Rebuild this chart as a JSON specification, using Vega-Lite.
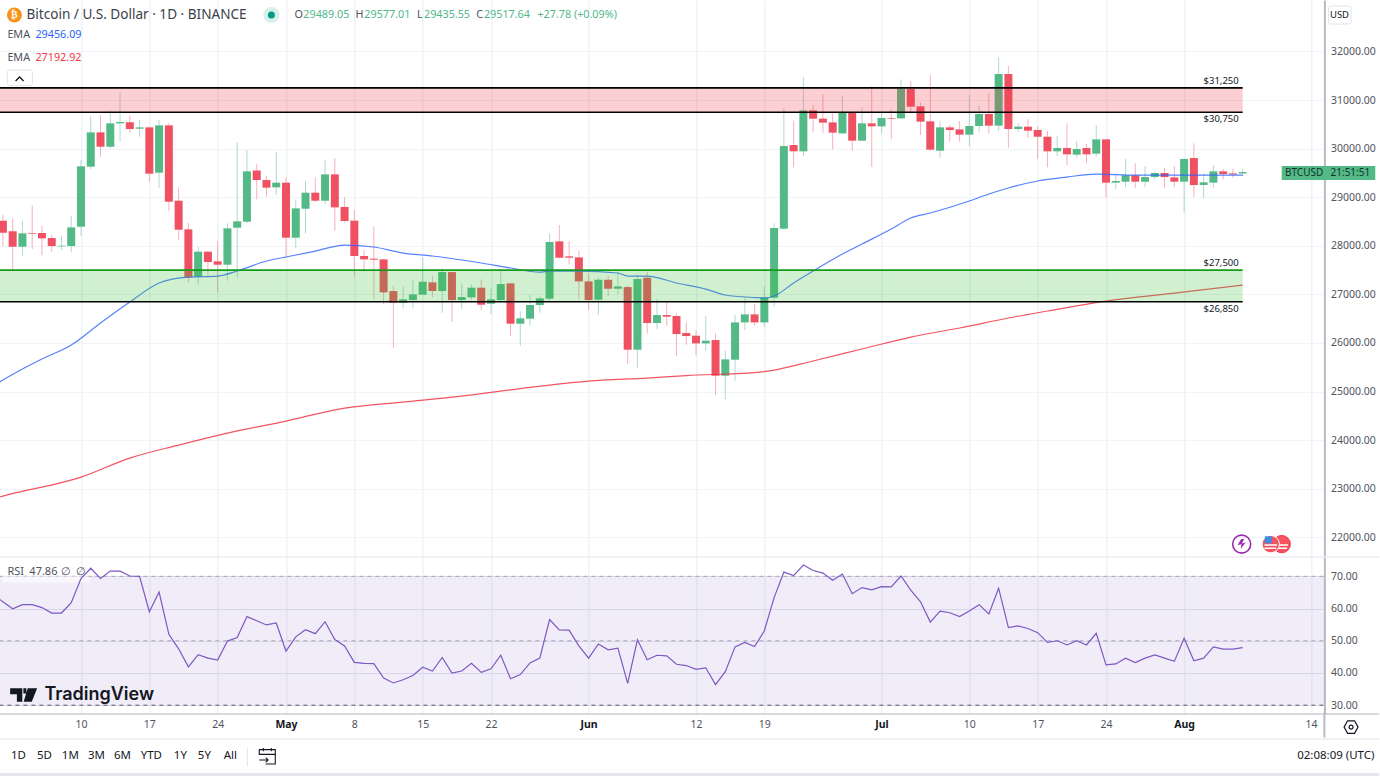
{
"$schema":"https://vega.github.io/schema/vega-lite/v6.json",
"padding":{"left":-3.6,"top":0,"right":0,"bottom":0},"background":"#ffffff","spacing":-2,
"config":{"view":{"stroke":null},"axis":{"title":null},"text":{"font":"Noto Sans"}},
"datasets":{
"candles":[
{"date":"2023-04-02","open":28516,"high":28633,"low":27995,"close":28269},
{"date":"2023-04-03","open":28297,"high":28565,"low":27501,"close":27981},
{"date":"2023-04-04","open":27981,"high":28516,"low":27796,"close":28256},
{"date":"2023-04-05","open":28263,"high":28825,"low":27933,"close":28249},
{"date":"2023-04-06","open":28263,"high":28414,"low":27810,"close":28153},
{"date":"2023-04-07","open":28160,"high":28222,"low":27878,"close":27995},
{"date":"2023-04-08","open":27988,"high":28208,"low":27913,"close":28002},
{"date":"2023-04-09","open":27995,"high":28619,"low":27872,"close":28379},
{"date":"2023-04-10","open":28393,"high":29765,"low":28208,"close":29635},
{"date":"2023-04-11","open":29628,"high":30671,"low":29580,"close":30334},
{"date":"2023-04-12","open":30334,"high":30691,"low":29834,"close":30039},
{"date":"2023-04-13","open":30039,"high":30780,"low":30005,"close":30520},
{"date":"2023-04-14","open":30520,"high":31158,"low":30142,"close":30547},
{"date":"2023-04-15","open":30540,"high":30677,"low":30328,"close":30403},
{"date":"2023-04-16","open":30410,"high":30588,"low":30245,"close":30437},
{"date":"2023-04-17","open":30437,"high":30451,"low":29319,"close":29484},
{"date":"2023-04-18","open":29504,"high":30588,"low":29196,"close":30478},
{"date":"2023-04-19","open":30478,"high":30520,"low":28715,"close":28907},
{"date":"2023-04-20","open":28928,"high":29202,"low":28119,"close":28331},
{"date":"2023-04-21","open":28338,"high":28475,"low":27247,"close":27350},
{"date":"2023-04-22","open":27364,"high":27981,"low":27199,"close":27879},
{"date":"2023-04-23","open":27879,"high":27892,"low":27364,"close":27666},
{"date":"2023-04-24","open":27680,"high":28098,"low":27042,"close":27611},
{"date":"2023-04-25","open":27611,"high":28462,"low":27282,"close":28359},
{"date":"2023-04-26","open":28372,"high":30129,"low":27343,"close":28503},
{"date":"2023-04-27","open":28496,"high":29971,"low":28462,"close":29532},
{"date":"2023-04-28","open":29552,"high":29676,"low":28955,"close":29353},
{"date":"2023-04-29","open":29353,"high":29436,"low":29010,"close":29196},
{"date":"2023-04-30","open":29203,"high":29937,"low":29045,"close":29299},
{"date":"2023-05-01","open":29299,"high":29408,"low":27762,"close":28167},
{"date":"2023-05-02","open":28167,"high":28955,"low":27961,"close":28770},
{"date":"2023-05-03","open":28763,"high":29340,"low":28256,"close":29093},
{"date":"2023-05-04","open":29093,"high":29408,"low":28907,"close":28928},
{"date":"2023-05-05","open":28928,"high":29765,"low":28859,"close":29470},
{"date":"2023-05-06","open":29470,"high":29799,"low":28311,"close":28791},
{"date":"2023-05-07","open":28798,"high":29000,"low":28480,"close":28510},
{"date":"2023-05-08","open":28517,"high":28736,"low":27364,"close":27790},
{"date":"2023-05-09","open":27790,"high":27913,"low":27467,"close":27721},
{"date":"2023-05-10","open":27735,"high":28393,"low":26898,"close":27714},
{"date":"2023-05-11","open":27721,"high":27721,"low":26802,"close":27042},
{"date":"2023-05-12","open":27069,"high":27172,"low":25903,"close":26829},
{"date":"2023-05-13","open":26829,"high":27158,"low":26712,"close":26898},
{"date":"2023-05-14","open":26884,"high":27309,"low":26726,"close":27001},
{"date":"2023-05-15","open":26994,"high":27762,"low":26987,"close":27261},
{"date":"2023-05-16","open":27248,"high":27378,"low":26939,"close":27069},
{"date":"2023-05-17","open":27069,"high":27536,"low":26623,"close":27460},
{"date":"2023-05-18","open":27460,"high":27460,"low":26438,"close":26884},
{"date":"2023-05-19","open":26884,"high":27227,"low":26699,"close":26946},
{"date":"2023-05-20","open":26939,"high":27206,"low":26884,"close":27138},
{"date":"2023-05-21","open":27138,"high":27309,"low":26678,"close":26788},
{"date":"2023-05-22","open":26809,"high":27145,"low":26596,"close":26898},
{"date":"2023-05-23","open":26884,"high":27488,"low":26850,"close":27213},
{"date":"2023-05-24","open":27227,"high":27241,"low":26143,"close":26397},
{"date":"2023-05-25","open":26397,"high":26658,"low":25944,"close":26507},
{"date":"2023-05-26","open":26500,"high":26987,"low":26356,"close":26781},
{"date":"2023-05-27","open":26781,"high":26953,"low":26623,"close":26918},
{"date":"2023-05-28","open":26911,"high":28256,"low":26870,"close":28078},
{"date":"2023-05-29","open":28091,"high":28428,"low":27742,"close":27755},
{"date":"2023-05-30","open":27783,"high":28098,"low":27618,"close":27755},
{"date":"2023-05-31","open":27762,"high":27892,"low":26898,"close":27268},
{"date":"2023-06-01","open":27268,"high":27433,"low":26678,"close":26884},
{"date":"2023-06-02","open":26891,"high":27350,"low":26575,"close":27302},
{"date":"2023-06-03","open":27302,"high":27378,"low":26966,"close":27117},
{"date":"2023-06-04","open":27117,"high":27467,"low":27007,"close":27165},
{"date":"2023-06-05","open":27151,"high":27186,"low":25567,"close":25862},
{"date":"2023-06-06","open":25862,"high":27412,"low":25478,"close":27316},
{"date":"2023-06-07","open":27344,"high":27467,"low":26198,"close":26411},
{"date":"2023-06-08","open":26411,"high":26905,"low":26287,"close":26575},
{"date":"2023-06-09","open":26575,"high":26850,"low":26356,"close":26541},
{"date":"2023-06-10","open":26555,"high":26610,"low":25732,"close":26184},
{"date":"2023-06-11","open":26205,"high":26424,"low":25965,"close":26143},
{"date":"2023-06-12","open":26150,"high":26267,"low":25752,"close":25992},
{"date":"2023-06-13","open":25992,"high":26555,"low":25841,"close":26047},
{"date":"2023-06-14","open":26061,"high":26198,"low":24929,"close":25327},
{"date":"2023-06-15","open":25327,"high":25841,"low":24840,"close":25663},
{"date":"2023-06-16","open":25656,"high":26575,"low":25224,"close":26424},
{"date":"2023-06-17","open":26424,"high":26939,"low":26267,"close":26589},
{"date":"2023-06-18","open":26589,"high":26802,"low":26356,"close":26424},
{"date":"2023-06-19","open":26424,"high":27158,"low":26335,"close":26939},
{"date":"2023-06-20","open":26932,"high":28462,"low":26747,"close":28366},
{"date":"2023-06-21","open":28352,"high":30828,"low":28325,"close":30053},
{"date":"2023-06-22","open":30074,"high":30575,"low":29614,"close":29944},
{"date":"2023-06-23","open":29944,"high":31466,"low":29847,"close":30787},
{"date":"2023-06-24","open":30787,"high":30897,"low":30341,"close":30616},
{"date":"2023-06-25","open":30616,"high":31123,"low":30328,"close":30534},
{"date":"2023-06-26","open":30540,"high":30726,"low":29985,"close":30328},
{"date":"2023-06-27","open":30314,"high":31089,"low":30300,"close":30739},
{"date":"2023-06-28","open":30739,"high":30760,"low":29957,"close":30163},
{"date":"2023-06-29","open":30163,"high":30849,"low":30156,"close":30520},
{"date":"2023-06-30","open":30520,"high":31288,"low":29628,"close":30458},
{"date":"2023-07-01","open":30458,"high":30726,"low":30314,"close":30630},
{"date":"2023-07-02","open":30630,"high":30808,"low":30197,"close":30616},
{"date":"2023-07-03","open":30623,"high":31425,"low":30609,"close":31233},
{"date":"2023-07-04","open":31226,"high":31384,"low":30726,"close":30863},
{"date":"2023-07-05","open":30870,"high":30952,"low":30280,"close":30554},
{"date":"2023-07-06","open":30561,"high":31508,"low":29957,"close":29978},
{"date":"2023-07-07","open":29957,"high":30561,"low":29813,"close":30437},
{"date":"2023-07-08","open":30437,"high":30485,"low":30142,"close":30383},
{"date":"2023-07-09","open":30396,"high":30568,"low":30142,"close":30287},
{"date":"2023-07-10","open":30287,"high":31103,"low":30053,"close":30465},
{"date":"2023-07-11","open":30465,"high":30883,"low":30348,"close":30712},
{"date":"2023-07-12","open":30712,"high":31137,"low":30314,"close":30472},
{"date":"2023-07-13","open":30472,"high":31878,"low":30362,"close":31535},
{"date":"2023-07-14","open":31535,"high":31700,"low":30019,"close":30403},
{"date":"2023-07-15","open":30403,"high":30520,"low":30348,"close":30451},
{"date":"2023-07-16","open":30451,"high":30609,"low":30225,"close":30369},
{"date":"2023-07-17","open":30383,"high":30451,"low":29786,"close":30245},
{"date":"2023-07-18","open":30245,"high":30362,"low":29614,"close":29944},
{"date":"2023-07-19","open":29944,"high":30259,"low":29847,"close":30012},
{"date":"2023-07-20","open":30012,"high":30520,"low":29662,"close":29882},
{"date":"2023-07-21","open":29875,"high":30156,"low":29813,"close":29992},
{"date":"2023-07-22","open":30012,"high":30094,"low":29697,"close":29882},
{"date":"2023-07-23","open":29896,"high":30485,"low":29834,"close":30190},
{"date":"2023-07-24","open":30190,"high":30190,"low":28990,"close":29299},
{"date":"2023-07-25","open":29299,"high":29456,"low":29168,"close":29333},
{"date":"2023-07-26","open":29319,"high":29786,"low":29203,"close":29450},
{"date":"2023-07-27","open":29450,"high":29697,"low":29196,"close":29319},
{"date":"2023-07-28","open":29319,"high":29642,"low":29203,"close":29415},
{"date":"2023-07-29","open":29415,"high":29525,"low":29367,"close":29498},
{"date":"2023-07-30","open":29498,"high":29607,"low":29196,"close":29415},
{"date":"2023-07-31","open":29408,"high":29642,"low":29203,"close":29319},
{"date":"2023-08-01","open":29319,"high":29799,"low":28681,"close":29786},
{"date":"2023-08-02","open":29806,"high":30108,"low":29011,"close":29251},
{"date":"2023-08-03","open":29251,"high":29491,"low":28990,"close":29306},
{"date":"2023-08-04","open":29299,"high":29662,"low":29196,"close":29532},
{"date":"2023-08-05","open":29532,"high":29580,"low":29367,"close":29477},
{"date":"2023-08-06","open":29491,"high":29580,"low":29402,"close":29470},
{"date":"2023-08-07","open":29489.05,"high":29577.01,"low":29435.55,"close":29517.64}
],
"ema50":[
{"date":"2023-04-01T15:23:00Z","price":25196},{"date":"2023-04-02","price":25238},{"date":"2023-04-04","price":25464},{"date":"2023-04-06","price":25670},{"date":"2023-04-09","price":25958},{"date":"2023-04-12","price":26411},{"date":"2023-04-15","price":26843},{"date":"2023-04-18","price":27234},{"date":"2023-04-21","price":27357},{"date":"2023-04-24","price":27378},{"date":"2023-04-26","price":27481},{"date":"2023-04-29","price":27687},{"date":"2023-05-01","price":27769},{"date":"2023-05-04","price":27892},{"date":"2023-05-07","price":28016},{"date":"2023-05-10","price":27975},{"date":"2023-05-13","price":27851},{"date":"2023-05-16","price":27790},{"date":"2023-05-21","price":27646},{"date":"2023-05-24","price":27543},{"date":"2023-05-27","price":27460},{"date":"2023-05-28","price":27481},{"date":"2023-05-31","price":27481},{"date":"2023-06-04","price":27440},{"date":"2023-06-05","price":27378},{"date":"2023-06-07","price":27378},{"date":"2023-06-10","price":27234},{"date":"2023-06-13","price":27110},{"date":"2023-06-15","price":26987},{"date":"2023-06-18","price":26935},{"date":"2023-06-19","price":26925},{"date":"2023-06-20","price":26966},{"date":"2023-06-22","price":27234},{"date":"2023-06-24","price":27481},{"date":"2023-06-27","price":27831},{"date":"2023-06-29","price":28036},{"date":"2023-07-02","price":28345},{"date":"2023-07-04","price":28572},{"date":"2023-07-06","price":28675},{"date":"2023-07-10","price":28921},{"date":"2023-07-12","price":29066},{"date":"2023-07-14","price":29189},{"date":"2023-07-17","price":29333},{"date":"2023-07-20","price":29415},{"date":"2023-07-23","price":29477},{"date":"2023-07-27","price":29456},{"date":"2023-08-01","price":29456},{"date":"2023-08-07","price":29456.09}
],
"ema200":[
{"date":"2023-04-01T15:23:00Z","price":22830},{"date":"2023-04-02","price":22850},{"date":"2023-04-10","price":23241},{"date":"2023-04-15","price":23632},{"date":"2023-04-20","price":23900},{"date":"2023-04-25","price":24147},{"date":"2023-05-01","price":24394},{"date":"2023-05-07","price":24661},{"date":"2023-05-13","price":24785},{"date":"2023-05-19","price":24908},{"date":"2023-05-25","price":25063},{"date":"2023-06-01","price":25217},{"date":"2023-06-07","price":25279},{"date":"2023-06-11","price":25330},{"date":"2023-06-18","price":25392},{"date":"2023-06-20","price":25443},{"date":"2023-06-24","price":25629},{"date":"2023-06-29","price":25876},{"date":"2023-07-04","price":26122},{"date":"2023-07-09","price":26308},{"date":"2023-07-14","price":26514},{"date":"2023-07-18","price":26658},{"date":"2023-07-24","price":26863},{"date":"2023-07-31","price":27028},{"date":"2023-08-07","price":27192.92}
],
"rsi":[
{"date":"2023-04-01T15:23:00Z","rsi":62.9},{"date":"2023-04-02","rsi":62.1},{"date":"2023-04-03","rsi":59.9},{"date":"2023-04-04","rsi":61.2},{"date":"2023-04-05","rsi":61.2},{"date":"2023-04-06","rsi":60.3},{"date":"2023-04-07","rsi":58.6},{"date":"2023-04-08","rsi":58.6},{"date":"2023-04-09","rsi":61.8},{"date":"2023-04-10","rsi":69.3},{"date":"2023-04-11","rsi":72.5},{"date":"2023-04-12","rsi":69.3},{"date":"2023-04-13","rsi":71.6},{"date":"2023-04-14","rsi":71.6},{"date":"2023-04-15","rsi":70.1},{"date":"2023-04-16","rsi":70},{"date":"2023-04-17","rsi":59},{"date":"2023-04-18","rsi":65.1},{"date":"2023-04-19","rsi":52},{"date":"2023-04-20","rsi":47.5},{"date":"2023-04-21","rsi":41.9},{"date":"2023-04-22","rsi":45.7},{"date":"2023-04-23","rsi":44.6},{"date":"2023-04-24","rsi":44},{"date":"2023-04-25","rsi":49.9},{"date":"2023-04-26","rsi":51},{"date":"2023-04-27","rsi":57.5},{"date":"2023-04-28","rsi":56.2},{"date":"2023-04-29","rsi":54.9},{"date":"2023-04-30","rsi":55.5},
{"date":"2023-05-01","rsi":46.8},{"date":"2023-05-02","rsi":51.2},{"date":"2023-05-03","rsi":53.4},{"date":"2023-05-04","rsi":52.2},{"date":"2023-05-05","rsi":55.9},{"date":"2023-05-06","rsi":50.4},{"date":"2023-05-07","rsi":48.4},{"date":"2023-05-08","rsi":43.3},{"date":"2023-05-09","rsi":43},{"date":"2023-05-10","rsi":42.9},{"date":"2023-05-11","rsi":38.4},{"date":"2023-05-12","rsi":36.9},{"date":"2023-05-13","rsi":37.9},{"date":"2023-05-14","rsi":39.2},{"date":"2023-05-15","rsi":41.8},{"date":"2023-05-16","rsi":40.6},{"date":"2023-05-17","rsi":44.8},{"date":"2023-05-18","rsi":40},{"date":"2023-05-19","rsi":40.6},{"date":"2023-05-20","rsi":43},{"date":"2023-05-21","rsi":40.2},{"date":"2023-05-22","rsi":41.3},{"date":"2023-05-23","rsi":45.5},{"date":"2023-05-24","rsi":38.2},{"date":"2023-05-25","rsi":39.5},{"date":"2023-05-26","rsi":43.1},{"date":"2023-05-27","rsi":44.6},{"date":"2023-05-28","rsi":56.6},{"date":"2023-05-29","rsi":53.4},{"date":"2023-05-30","rsi":53.3},{"date":"2023-05-31","rsi":48.4},
{"date":"2023-06-01","rsi":44.6},{"date":"2023-06-02","rsi":49},{"date":"2023-06-03","rsi":47.2},{"date":"2023-06-04","rsi":47.7},{"date":"2023-06-05","rsi":36.8},{"date":"2023-06-06","rsi":50.3},{"date":"2023-06-07","rsi":44.1},{"date":"2023-06-08","rsi":45.5},{"date":"2023-06-09","rsi":45.3},{"date":"2023-06-10","rsi":42.7},{"date":"2023-06-11","rsi":42.3},{"date":"2023-06-12","rsi":41.1},{"date":"2023-06-13","rsi":41.6},{"date":"2023-06-14","rsi":36.4},{"date":"2023-06-15","rsi":40.4},{"date":"2023-06-16","rsi":48.1},{"date":"2023-06-17","rsi":49.5},{"date":"2023-06-18","rsi":48.2},{"date":"2023-06-19","rsi":53.1},{"date":"2023-06-20","rsi":63.4},{"date":"2023-06-21","rsi":71.3},{"date":"2023-06-22","rsi":70.2},{"date":"2023-06-23","rsi":73.5},{"date":"2023-06-24","rsi":71.8},{"date":"2023-06-25","rsi":71},{"date":"2023-06-26","rsi":68.8},{"date":"2023-06-27","rsi":70.7},{"date":"2023-06-28","rsi":64.6},{"date":"2023-06-29","rsi":66.5},{"date":"2023-06-30","rsi":65.8},
{"date":"2023-07-01","rsi":66.8},{"date":"2023-07-02","rsi":66.7},{"date":"2023-07-03","rsi":70.1},{"date":"2023-07-04","rsi":65.7},{"date":"2023-07-05","rsi":62.1},{"date":"2023-07-06","rsi":55.8},{"date":"2023-07-07","rsi":59.2},{"date":"2023-07-08","rsi":58.7},{"date":"2023-07-09","rsi":57.5},{"date":"2023-07-10","rsi":59.2},{"date":"2023-07-11","rsi":61.2},{"date":"2023-07-12","rsi":58.3},{"date":"2023-07-13","rsi":66.3},{"date":"2023-07-14","rsi":54.1},{"date":"2023-07-15","rsi":54.6},{"date":"2023-07-16","rsi":53.8},{"date":"2023-07-17","rsi":52.5},{"date":"2023-07-18","rsi":49.5},{"date":"2023-07-19","rsi":50},{"date":"2023-07-20","rsi":48.7},{"date":"2023-07-21","rsi":50},{"date":"2023-07-22","rsi":48.7},{"date":"2023-07-23","rsi":52.3},{"date":"2023-07-24","rsi":42.5},{"date":"2023-07-25","rsi":42.8},{"date":"2023-07-26","rsi":44.6},{"date":"2023-07-27","rsi":43.2},{"date":"2023-07-28","rsi":44.6},{"date":"2023-07-29","rsi":45.6},{"date":"2023-07-30","rsi":44.6},{"date":"2023-07-31","rsi":43.6},
{"date":"2023-08-01","rsi":50.8},{"date":"2023-08-02","rsi":43.8},{"date":"2023-08-03","rsi":44.6},{"date":"2023-08-04","rsi":48.1},{"date":"2023-08-05","rsi":47.4},{"date":"2023-08-06","rsi":47.4},{"date":"2023-08-07","rsi":47.86}
],
"zones":[
{"start":"2023-04-01T15:23:00Z","end":"2023-08-07T00:00:00Z","top":31250,"bottom":30750,"zone":"sell"},
{"start":"2023-04-01T15:23:00Z","end":"2023-08-07T00:00:00Z","top":27500,"bottom":26850,"zone":"buy"}
]
},
"vconcat":[
{"width":1325,"height":556,"layer":[
{"data":{"values":[{"date":"2023-04-10","price":30000}]},"mark":{"type":"point","opacity":0},
"encoding":{
"x":{"field":"date","type":"temporal","scale":{"type":"utc","domain":["2023-04-01T15:23:00Z","2023-08-15T08:53:00Z"],"nice":false,"padding":0},
"axis":{"orient":"bottom","labels":false,"ticks":false,"domain":false,"grid":true,"gridColor":"#e6edf3","gridWidth":1,"minExtent":0,"maxExtent":0,"tickCount":40,
"values":["2023-04-10","2023-04-17","2023-04-24","2023-05-01","2023-05-08","2023-05-15","2023-05-22","2023-06-01","2023-06-12","2023-06-19","2023-07-01","2023-07-10","2023-07-17","2023-07-24","2023-08-01","2023-08-14"]}},
"y":{"field":"price","type":"quantitative","scale":{"domain":[21617,33058],"nice":false,"zero":false},
"axis":{"orient":"right","tickCount":20,"values":[22000,23000,24000,25000,26000,27000,28000,29000,30000,31000,32000],"format":".2f","ticks":false,"labelPadding":6,"labelFont":"Noto Sans","labelFontSize":10.5,"labelColor":"#50535e","labelOverlap":false,"domain":true,"domainColor":"#b8bbc2","domainWidth":2,"grid":true,"gridColor":"#f0f3f8","gridWidth":1,"minExtent":54,"maxExtent":54}}
}},
{"data":{"name":"candles"},"mark":{"type":"rule","strokeWidth":1,"opacity":0.45,"clip":true},
"encoding":{"x":{"field":"date","type":"temporal"},"y":{"field":"low","type":"quantitative"},"y2":{"field":"high"},
"color":{"condition":{"test":"datum.close>=datum.open","value":"#52a99a"},"value":"#ef5162"}}},
{"data":{"name":"candles"},"mark":{"type":"bar","size":8,"clip":true},
"encoding":{"x":{"field":"date","type":"temporal"},"y":{"field":"open","type":"quantitative"},"y2":{"field":"close"},
"color":{"condition":{"test":"datum.close>=datum.open","value":"#53b987"},"value":"#ef5162"}}},
{"data":{"name":"ema200"},"mark":{"type":"line","color":"#f23645","strokeWidth":1.2,"opacity":0.85,"interpolate":"monotone"},
"encoding":{"x":{"field":"date","type":"temporal"},"y":{"field":"price","type":"quantitative"}}},
{"data":{"name":"ema50"},"mark":{"type":"line","color":"#2962ff","strokeWidth":1.2,"opacity":0.8,"interpolate":"monotone"},
"encoding":{"x":{"field":"date","type":"temporal"},"y":{"field":"price","type":"quantitative"}}},
{"data":{"name":"zones"},"mark":{"type":"rect","strokeWidth":1,"opacity":0.24},
"encoding":{"x":{"field":"start","type":"temporal"},"x2":{"field":"end"},"y":{"field":"top","type":"quantitative"},"y2":{"field":"bottom"},
"color":{"condition":{"test":"datum.zone=='sell'","value":"#f23645"},"value":"#3cc13b"}}},
{"data":{"name":"zones"},"mark":{"type":"rule","strokeWidth":1.7},
"encoding":{"x":{"field":"start","type":"temporal"},"x2":{"field":"end"},"y":{"field":"top","type":"quantitative"},
"color":{"condition":{"test":"datum.zone=='sell'","value":"#000000"},"value":"#159b1c"}}},
{"data":{"name":"zones"},"mark":{"type":"rule","strokeWidth":1.5,"color":"#000000"},
"encoding":{"x":{"field":"start","type":"temporal"},"x2":{"field":"end"},"y":{"field":"bottom","type":"quantitative"}}},
{"data":{"values":[{"date":"2023-08-04T19:00:00Z","price":31391,"label":"$31,250"},{"date":"2023-08-04T19:00:00Z","price":30609,"label":"$30,750"},{"date":"2023-08-04T19:00:00Z","price":27645,"label":"$27,500"},{"date":"2023-08-04T19:00:00Z","price":26699,"label":"$26,850"}]},
"mark":{"type":"text","fontSize":9.5,"color":"#131722","align":"center","baseline":"middle"},
"encoding":{"x":{"field":"date","type":"temporal"},"y":{"field":"price","type":"quantitative"},"text":{"field":"label"}}},
{"data":{"values":[{"start":"2023-08-11T00:00:00Z","end":"2023-08-20T14:00:00Z","top":29642,"bottom":29354}]},
"mark":{"type":"rect","color":"#53b987"},
"encoding":{"x":{"field":"start","type":"temporal"},"x2":{"field":"end"},"y":{"field":"top","type":"quantitative"},"y2":{"field":"bottom"}}},
{"data":{"values":[{"date":"2023-08-11T08:00:00Z","price":29498,"label":"BTCUSD"},{"date":"2023-08-16T00:00:00Z","price":29498,"label":"21:51:51"}]},
"mark":{"type":"text","fontSize":10,"color":"#12352a","align":"left","baseline":"middle"},
"encoding":{"x":{"field":"date","type":"temporal"},"y":{"field":"price","type":"quantitative"},"text":{"field":"label"}}},
{"data":{"values":[{"start":"2023-08-15T19:00:00Z","end":"2023-08-18T02:30:00Z","top":32935,"bottom":32564}]},
"mark":{"type":"rect","fill":"#ffffff","stroke":"#e0e3eb","cornerRadius":2},
"encoding":{"x":{"field":"start","type":"temporal"},"x2":{"field":"end"},"y":{"field":"top","type":"quantitative"},"y2":{"field":"bottom"}}},
{"data":{"values":[{"date":"2023-08-16T22:00:00Z","price":32749,"label":"USD"}]},
"mark":{"type":"text","fontSize":9.5,"color":"#131722","align":"center","baseline":"middle"},
"encoding":{"x":{"field":"date","type":"temporal"},"y":{"field":"price","type":"quantitative"},"text":{"field":"label"}}},
{"data":{"values":[{"start":"2023-04-02T11:00:00Z","end":"2023-04-05T00:30:00Z","top":31617,"bottom":31300}]},
"mark":{"type":"rect","fill":"#ffffff","stroke":"#e0e3eb","cornerRadius":2},
"encoding":{"x":{"field":"start","type":"temporal"},"x2":{"field":"end"},"y":{"field":"top","type":"quantitative"},"y2":{"field":"bottom"}}},
{"data":{"values":[{"date":"2023-04-03T17:00:00Z","price":31432}]},
"mark":{"type":"point","shape":"M-1,0.5 L0,-0.5 L1,0.5","size":64,"filled":false,"stroke":"#131722","strokeWidth":1.3,"opacity":1},
"encoding":{"x":{"field":"date","type":"temporal"},"y":{"field":"price","type":"quantitative"}}},
{"data":{"values":[{"date":"2023-04-03T04:20:00Z","price":32749}]},
"mark":{"type":"point","shape":"circle","filled":true,"size":225,"color":"#f7931a","opacity":1},
"encoding":{"x":{"field":"date","type":"temporal"},"y":{"field":"price","type":"quantitative"}}},
{"data":{"values":[{"date":"2023-04-03T04:20:00Z","price":32749,"label":"₿"}]},
"mark":{"type":"text","font":"DejaVu Sans","fontSize":10,"fontWeight":"bold","color":"#ffffff","align":"center","baseline":"middle"},
"encoding":{"x":{"field":"date","type":"temporal"},"y":{"field":"price","type":"quantitative"},"text":{"field":"label"}}},
{"data":{"values":[{"date":"2023-04-29T12:00:00Z","price":32749}]},
"mark":{"type":"point","shape":"circle","filled":true,"size":260,"color":"#d8f0ea","opacity":1},
"encoding":{"x":{"field":"date","type":"temporal"},"y":{"field":"price","type":"quantitative"}}},
{"data":{"values":[{"date":"2023-04-29T12:00:00Z","price":32749}]},
"mark":{"type":"point","shape":"circle","filled":true,"size":49,"color":"#089981","opacity":1},
"encoding":{"x":{"field":"date","type":"temporal"},"y":{"field":"price","type":"quantitative"}}},
{"data":{"values":[{"date":"2023-04-04T09:50:00Z","price":32749,"label":"Bitcoin / U.S. Dollar · 1D · BINANCE"}]},
"mark":{"type":"text","fontSize":13.6,"color":"#3d404a","align":"left","baseline":"middle"},
"encoding":{"x":{"field":"date","type":"temporal"},"y":{"field":"price","type":"quantitative"},"text":{"field":"label"}}},
{"data":{"values":[
{"date":"2023-04-02T11:00:00Z","price":32338,"label":"EMA","kind":"grey"},
{"date":"2023-04-02T11:00:00Z","price":31864,"label":"EMA","kind":"grey"},
{"date":"2023-04-05T08:00:00Z","price":32338,"label":"29456.09","kind":"blue"},
{"date":"2023-04-05T08:00:00Z","price":31864,"label":"27192.92","kind":"red"},
{"date":"2023-05-01T20:40:00Z","price":32749,"label":"O","kind":"grey"},
{"date":"2023-05-02T18:40:00Z","price":32749,"label":"29489.05","kind":"green"},
{"date":"2023-05-08T02:40:00Z","price":32749,"label":"H","kind":"grey"},
{"date":"2023-05-09T00:40:00Z","price":32749,"label":"29577.01","kind":"green"},
{"date":"2023-05-14T09:50:00Z","price":32749,"label":"L","kind":"grey"},
{"date":"2023-05-15T03:10:00Z","price":32749,"label":"29435.55","kind":"green"},
{"date":"2023-05-20T12:00:00Z","price":32749,"label":"C","kind":"grey"},
{"date":"2023-05-21T06:30:00Z","price":32749,"label":"29517.64","kind":"green"},
{"date":"2023-05-26T18:00:00Z","price":32749,"label":"+27.78 (+0.09%)","kind":"green"}
]},
"mark":{"type":"text","fontSize":10.8,"align":"left","baseline":"middle"},
"encoding":{"x":{"field":"date","type":"temporal"},"y":{"field":"price","type":"quantitative"},"text":{"field":"label"},
"color":{"field":"kind","type":"nominal","legend":null,"scale":{"domain":["grey","blue","red","green"],"range":["#50535e","#2962ff","#f23645","#4fb788"]}}}},
{"data":{"values":[{"date":"2023-08-06T21:30:00Z","price":21862}]},
"mark":{"type":"point","shape":"circle","filled":false,"size":324,"stroke":"#9c27b0","strokeWidth":1.6,"opacity":1},
"encoding":{"x":{"field":"date","type":"temporal"},"y":{"field":"price","type":"quantitative"}}},
{"data":{"values":[{"date":"2023-08-06T21:30:00Z","price":21862}]},
"mark":{"type":"point","shape":"M-0.1,-1 L-0.8,0.2 L-0.04,0.04 L-0.2,1 L0.8,-0.3 L0.04,-0.1 L0.5,-1 Z","filled":true,"size":100,"color":"#9c27b0","opacity":1},
"encoding":{"x":{"field":"date","type":"temporal"},"y":{"field":"price","type":"quantitative"}}},
{"data":{"values":[{"date":"2023-08-11T00:00:00Z","price":21862}]},
"mark":{"type":"point","shape":"circle","filled":true,"size":300,"fill":"#f7525f","stroke":"#f23645","strokeWidth":1,"opacity":1},
"encoding":{"x":{"field":"date","type":"temporal"},"y":{"field":"price","type":"quantitative"}}},
{"data":{"values":[{"date":"2023-08-11T00:00:00Z","price":21862}]},
"mark":{"type":"point","shape":"M-1.4,0.2 L1.4,0.2 M-1.4,0.9 L1.2,0.9","filled":false,"size":81,"stroke":"#ffffff","strokeWidth":1.5,"opacity":1},
"encoding":{"x":{"field":"date","type":"temporal"},"y":{"field":"price","type":"quantitative"}}},
{"data":{"values":[{"date":"2023-08-09T21:00:00Z","price":21862}]},
"mark":{"type":"point","shape":"circle","filled":true,"size":300,"fill":"#f7525f","stroke":"#ffffff","strokeWidth":1,"opacity":1},
"encoding":{"x":{"field":"date","type":"temporal"},"y":{"field":"price","type":"quantitative"}}},
{"data":{"values":[{"date":"2023-08-09T21:00:00Z","price":21862}]},
"mark":{"type":"point","shape":"M-1.4,0.2 L1.4,0.2 M-1.4,0.9 L1.2,0.9","filled":false,"size":81,"stroke":"#ffffff","strokeWidth":1.5,"opacity":1},
"encoding":{"x":{"field":"date","type":"temporal"},"y":{"field":"price","type":"quantitative"}}},
{"data":{"values":[{"date":"2023-08-09T15:00:00Z","price":21950}]},
"mark":{"type":"point","shape":"square","filled":true,"size":49,"color":"#3d8fe0","opacity":1},
"encoding":{"x":{"field":"date","type":"temporal"},"y":{"field":"price","type":"quantitative"}}}
]},
{"width":1325,"height":157,"layer":[
{"data":{"values":[{"start":"2023-04-01T15:23:00Z","end":"2023-08-15T08:53:00Z","top":70,"bottom":30}]},
"mark":{"type":"rect","color":"#7e57c2","opacity":0.11},
"encoding":{
"x":{"field":"start","type":"temporal","scale":{"type":"utc","domain":["2023-04-01T15:23:00Z","2023-08-15T08:53:00Z"],"nice":false},
"axis":{"orient":"bottom","tickCount":40,"domain":false,"ticks":false,"grid":true,"gridColor":"#e6edf3","labelPadding":6,"labelFont":"Noto Sans","labelFontSize":10.5,"labelOverlap":false,"labelFlush":false,
"labelColor":{"condition":{"test":"utcdate(datum.value)==1","value":"#131722"},"value":"#50535e"},
"labelFontWeight":{"condition":{"test":"utcdate(datum.value)==1","value":"bold"},"value":"normal"},
"labelExpr":"utcdate(datum.value)==1 ? utcFormat(datum.value,'%b') : utcFormat(datum.value,'%-d')",
"minExtent":24,"maxExtent":24,
"values":["2023-04-10","2023-04-17","2023-04-24","2023-05-01","2023-05-08","2023-05-15","2023-05-22","2023-06-01","2023-06-12","2023-06-19","2023-07-01","2023-07-10","2023-07-17","2023-07-24","2023-08-01","2023-08-14"]}},
"x2":{"field":"end"},
"y":{"field":"top","type":"quantitative","scale":{"domain":[27.27,75.99],"nice":false,"zero":false},
"axis":{"orient":"right","tickCount":20,"values":[30,40,50,60,70],"format":".2f","ticks":false,"labelPadding":6,"labelFont":"Noto Sans","labelFontSize":10.5,"labelColor":"#50535e","labelOverlap":false,"domain":true,"domainColor":"#b8bbc2","domainWidth":2,"grid":true,"gridColor":"#e2e4f2","minExtent":54,"maxExtent":54}},
"y2":{"field":"bottom"}}},
{"data":{"values":[{"start":"2023-04-01T15:23:00Z","end":"2023-08-15T08:53:00Z","rsi":70,"kind":"mid"},{"start":"2023-04-01T15:23:00Z","end":"2023-08-15T08:53:00Z","rsi":50,"kind":"mid"},{"start":"2023-04-01T15:23:00Z","end":"2023-08-15T08:53:00Z","rsi":30,"kind":"low"}]},
"mark":{"type":"rule","strokeDash":[4,4],"strokeWidth":1},
"encoding":{"x":{"field":"start","type":"temporal"},"x2":{"field":"end"},"y":{"field":"rsi","type":"quantitative"},
"color":{"condition":{"test":"datum.kind=='low'","value":"#55585f"},"value":"#a8a9b4"}}},
{"data":{"values":[{"start":"2023-04-01T15:23:00Z","end":"2023-08-21T00:00:00Z","rsi":75.99,"kind":"top"},{"start":"2023-04-01T15:23:00Z","end":"2023-08-21T00:00:00Z","rsi":27.27,"kind":"bottom"}]},
"mark":{"type":"rule","strokeWidth":1},
"encoding":{"x":{"field":"start","type":"temporal"},"x2":{"field":"end"},"y":{"field":"rsi","type":"quantitative"},
"color":{"condition":{"test":"datum.kind=='bottom'","value":"#b2b5be"},"value":"#e0e3eb"}}},
{"data":{"values":[{"date":"2023-08-15T08:53:00Z","low":20,"high":27.27}]},
"mark":{"type":"rule","strokeWidth":2,"color":"#b8bbc2"},
"encoding":{"x":{"field":"date","type":"temporal"},"y":{"field":"low","type":"quantitative"},"y2":{"field":"high"}}},
{"data":{"values":[{"start":"2023-04-01T23:00:00Z","end":"2023-04-10T20:40:00Z","top":70,"bottom":68.1}]},
"mark":{"type":"rect","color":"#ffffff","opacity":0.55},
"encoding":{"x":{"field":"start","type":"temporal"},"x2":{"field":"end"},"y":{"field":"top","type":"quantitative"},"y2":{"field":"bottom"}}},
{"data":{"name":"rsi"},"mark":{"type":"line","color":"#7e57c2","strokeWidth":1.2},
"encoding":{"x":{"field":"date","type":"temporal"},"y":{"field":"rsi","type":"quantitative"}}},
{"data":{"values":[{"date":"2023-04-02T11:00:00Z","rsi":71.2,"label":"RSI","kind":"grey"},{"date":"2023-04-04T17:00:00Z","rsi":71.2,"label":"47.86","kind":"purple"},{"date":"2023-04-08T00:00:00Z","rsi":71.2,"label":"∅","kind":"grey"},{"date":"2023-04-09T12:00:00Z","rsi":71.2,"label":"∅","kind":"grey"}]},
"mark":{"type":"text","fontSize":11,"align":"left","baseline":"middle"},
"encoding":{"x":{"field":"date","type":"temporal"},"y":{"field":"rsi","type":"quantitative"},"text":{"field":"label"},
"color":{"field":"kind","type":"nominal","legend":null,"scale":{"domain":["grey","purple"],"range":["#50535e","#7e57c2"]}}}},
{"data":{"values":[{"date":"2023-04-04T03:00:00Z","rsi":33.2}]},
"mark":{"type":"point","shape":"M-1,-0.5 L-0.1,-0.5 L-0.1,0.5 L-0.5,0.5 L-0.5,-0.04 L-1,-0.04 Z M0.3,-0.5 L1,-0.5 L0.6,0.5 L0,0.5 Z M-0.02,-0.5 L0.2,-0.5 L0.2,-0.1 L-0.02,-0.1 Z","filled":true,"size":729,"color":"#131722","opacity":1},
"encoding":{"x":{"field":"date","type":"temporal"},"y":{"field":"rsi","type":"quantitative"}}},
{"data":{"values":[{"date":"2023-04-06T06:00:00Z","rsi":33.2,"label":"TradingView"}]},
"mark":{"type":"text","font":"Inter","fontSize":18,"fontWeight":600,"color":"#131722","align":"left","baseline":"middle"},
"encoding":{"x":{"field":"date","type":"temporal"},"y":{"field":"rsi","type":"quantitative"},"text":{"field":"label"}}},
{"data":{"values":[{"date":"2023-08-18T02:30:00Z","rsi":23.2}]},
"mark":{"type":"point","shape":"M-1,0 L-0.5,-0.9 L0.5,-0.9 L1,0 L0.5,0.9 L-0.5,0.9 Z","filled":false,"size":196,"stroke":"#131722","strokeWidth":1.2,"opacity":1},
"encoding":{"x":{"field":"date","type":"temporal"},"y":{"field":"rsi","type":"quantitative"}}},
{"data":{"values":[{"date":"2023-08-18T02:30:00Z","rsi":23.2}]},
"mark":{"type":"point","shape":"circle","filled":false,"size":16,"stroke":"#131722","strokeWidth":1.2,"opacity":1},
"encoding":{"x":{"field":"date","type":"temporal"},"y":{"field":"rsi","type":"quantitative"}}}
]},
{"width":1325,"height":39,"layer":[
{"data":{"values":[{"start":"2023-04-01T15:23:00Z","end":"2023-08-21T00:00:00Z","low":0,"high":0.128}]},
"mark":{"type":"rect","color":"#e3e6ee"},
"encoding":{
"x":{"field":"start","type":"temporal","axis":null,"scale":{"type":"utc","domain":["2023-04-01T15:23:00Z","2023-08-15T08:53:00Z"],"nice":false}},
"x2":{"field":"end"},
"y":{"field":"low","type":"quantitative","axis":null,"scale":{"domain":[0,1],"nice":false,"zero":false}},
"y2":{"field":"high"}}},
{"data":{"values":[{"start":"2023-04-01T15:23:00Z","end":"2023-08-21T00:00:00Z","row":1}]},
"mark":{"type":"rule","color":"#e0e3eb","strokeWidth":1},
"encoding":{"x":{"field":"start","type":"temporal","axis":null},"x2":{"field":"end"},"y":{"field":"row","type":"quantitative","axis":null}}},
{"data":{"values":[{"date":"2023-04-27T01:00:00Z","low":0.3,"high":0.78}]},
"mark":{"type":"rule","color":"#e0e3eb","strokeWidth":1},
"encoding":{"x":{"field":"date","type":"temporal","axis":null},"y":{"field":"low","type":"quantitative","axis":null},"y2":{"field":"high"}}},
{"data":{"values":[
{"date":"2023-04-03T14:00:00Z","row":0.564,"label":"1D"},{"date":"2023-04-06T06:00:00Z","row":0.564,"label":"5D"},{"date":"2023-04-08T21:50:00Z","row":0.564,"label":"1M"},{"date":"2023-04-11T14:00:00Z","row":0.564,"label":"3M"},{"date":"2023-04-14T05:50:00Z","row":0.564,"label":"6M"},{"date":"2023-04-17T05:00:00Z","row":0.564,"label":"YTD"},{"date":"2023-04-20T04:20:00Z","row":0.564,"label":"1Y"},{"date":"2023-04-22T15:20:00Z","row":0.564,"label":"5Y"},{"date":"2023-04-25T07:10:00Z","row":0.564,"label":"All"}]},
"mark":{"type":"text","fontSize":11.5,"color":"#131722","align":"center","baseline":"middle"},
"encoding":{"x":{"field":"date","type":"temporal","axis":null},"y":{"field":"row","type":"quantitative","axis":null},"text":{"field":"label"}}},
{"data":{"values":[{"date":"2023-08-20T12:00:00Z","row":0.564,"label":"02:08:09 (UTC)"}]},
"mark":{"type":"text","fontSize":11.5,"color":"#131722","align":"right","baseline":"middle"},
"encoding":{"x":{"field":"date","type":"temporal","axis":null},"y":{"field":"row","type":"quantitative","axis":null},"text":{"field":"label"}}},
{"data":{"values":[{"date":"2023-04-29T02:00:00Z","row":0.564}]},
"mark":{"type":"point","shape":"M-0.6,-0.2 L-1,-0.2 L-1,-0.8 L1,-0.8 L1,1 L-0.2,1 M-1,-0.2 L1,-0.2 M-0.5,-1 L-0.5,-0.6 M0.5,-1 L0.5,-0.6 M-1,0.5 L0.1,0.5 M-0.2,0.2 L0.1,0.5 L-0.2,0.8","filled":false,"size":256,"stroke":"#131722","strokeWidth":1.1,"opacity":1},
"encoding":{"x":{"field":"date","type":"temporal","axis":null},"y":{"field":"row","type":"quantitative","axis":null}}}
]}
]
}
